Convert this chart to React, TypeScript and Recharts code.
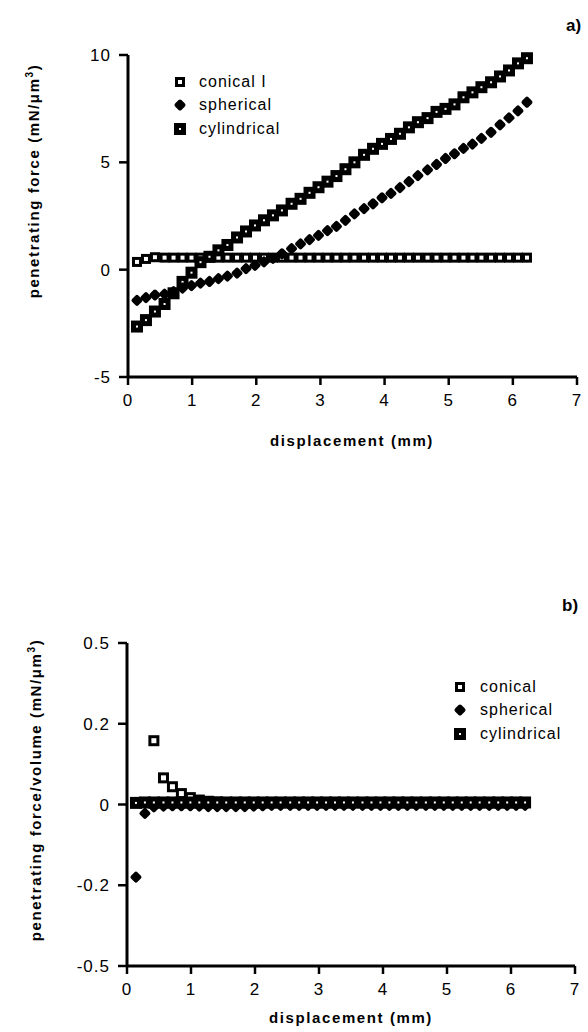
import { ScatterChart, Scatter, XAxis, YAxis } from "recharts";

// displacement grid (mm), shared by both panels
const DISPLACEMENT = [
  0.14, 0.28, 0.42, 0.57, 0.71, 0.85, 0.99, 1.13, 1.27, 1.41,
  1.55, 1.70, 1.84, 1.98, 2.12, 2.26, 2.40, 2.55, 2.69, 2.83,
  2.97, 3.11, 3.25, 3.39, 3.53, 3.68, 3.82, 3.96, 4.10, 4.24,
  4.38, 4.52, 4.67, 4.81, 4.95, 5.09, 5.23, 5.37, 5.51, 5.66,
  5.80, 5.94, 6.08, 6.22,
];

// panel a) penetrating force
const CONICAL_A = [
  0.36, 0.5, 0.58, 0.56, 0.56, 0.56, 0.56, 0.56, 0.56, 0.56,
  0.56, 0.56, 0.56, 0.56, 0.56, 0.56, 0.56, 0.56, 0.56, 0.56,
  0.56, 0.56, 0.56, 0.56, 0.56, 0.56, 0.56, 0.56, 0.56, 0.56,
  0.56, 0.56, 0.56, 0.56, 0.56, 0.56, 0.56, 0.56, 0.56, 0.56,
  0.56, 0.56, 0.56, 0.56,
];
const SPHERICAL_A = [
  -1.43, -1.3, -1.18, -1.14, -1.02, -0.86, -0.74, -0.63, -0.55, -0.42,
  -0.3, -0.16, 0.05, 0.2, 0.36, 0.53, 0.74, 0.98, 1.2, 1.4,
  1.6, 1.82, 2.02, 2.3, 2.6, 2.84, 3.07, 3.35, 3.55, 3.82,
  4.1, 4.38, 4.65, 4.9, 5.18, 5.4, 5.65, 5.85, 6.12, 6.4,
  6.75, 7.07, 7.4, 7.8,
];
const CYLINDRICAL_A = [
  -2.65, -2.35, -1.95, -1.6, -1.1, -0.57, -0.14, 0.35, 0.6, 0.9,
  1.15, 1.5, 1.78, 2.06, 2.3, 2.53, 2.76, 3.07, 3.3, 3.58,
  3.84, 4.1, 4.36, 4.68, 5.0, 5.35, 5.63, 5.86, 6.09, 6.33,
  6.63, 6.87, 7.06, 7.35, 7.49, 7.7, 8.03, 8.26, 8.5, 8.73,
  9.0, 9.28, 9.61, 9.85,
];

// panel b) penetrating force / volume
const CONICAL_B = [
  null, null, 0.158, 0.066, 0.044, 0.027, 0.017, 0.011, 0.008, 0.006,
  0.005, 0.005, 0.005, 0.005, 0.005, 0.005, 0.005, 0.005, 0.005, 0.005,
  0.005, 0.005, 0.005, 0.005, 0.005, 0.005, 0.005, 0.005, 0.005, 0.005,
  0.005, 0.005, 0.005, 0.005, 0.005, 0.005, 0.005, 0.005, 0.005, 0.005,
  0.005, 0.005, 0.005, 0.005,
];
const SPHERICAL_B = [
  -0.18, -0.022, -0.006, -0.004, -0.003, -0.003, -0.003, -0.004, -0.005, -0.005,
  -0.005, -0.005, -0.005, -0.004, -0.003, -0.002, -0.002, -0.002, -0.002, -0.002,
  -0.002, -0.002, -0.002, -0.002, -0.002, -0.002, -0.002, -0.002, -0.002, -0.002,
  -0.002, -0.002, -0.002, -0.002, -0.002, -0.002, -0.002, -0.002, -0.002, -0.002,
  -0.002, -0.002, -0.002, -0.002,
];
const CYLINDRICAL_B = [
  0.004, 0.005, 0.005, 0.005, 0.005, 0.005, 0.005, 0.005, 0.005, 0.005,
  0.005, 0.005, 0.005, 0.005, 0.005, 0.005, 0.005, 0.005, 0.005, 0.005,
  0.005, 0.005, 0.005, 0.005, 0.005, 0.005, 0.005, 0.005, 0.005, 0.005,
  0.005, 0.005, 0.005, 0.005, 0.005, 0.005, 0.005, 0.005, 0.005, 0.005,
  0.005, 0.005, 0.005, 0.005,
];

const X_TICKS = [0, 1, 2, 3, 4, 5, 6, 7];
const Y_TICKS_A = [-5, 0, 5, 10];
// panel b's axis is evenly spaced even though its labels are not
const Y_TICKS_B = [-0.4, -0.2, 0, 0.2, 0.4];
const Y_TICK_LABELS_B = ["-0.5", "-0.2", "0", "0.2", "0.5"];

const FONT = '"Liberation Sans", Arial, Helvetica, sans-serif';

function toPoints(ys: (number | null)[]) {
  return DISPLACEMENT.map((x, i) => ({ x, y: ys[i] })).filter((p) => p.y !== null);
}

// ─── Markers ─────────────────────────────────────────────────────────────────

function ConicalMark({ cx, cy, size = 10, hole = 4 }: { cx: number; cy: number; size?: number; hole?: number }) {
  const h = size / 2;
  return (
    <g>
      <rect x={cx - h} y={cy - h} width={size} height={size} fill="#000" />
      <rect x={cx - hole / 2} y={cy - hole / 2} width={hole} height={hole} fill="#fff" />
    </g>
  );
}

function SphericalMark({ cx, cy }: { cx: number; cy: number }) {
  return (
    <path
      d={`M${cx},${cy - 3.5} L${cx + 3.5},${cy} L${cx},${cy + 3.5} L${cx - 3.5},${cy} Z`}
      fill="#000"
      stroke="#000"
      strokeWidth={4}
      strokeLinejoin="round"
    />
  );
}

function CylindricalMark({ cx, cy }: { cx: number; cy: number }) {
  return (
    <g>
      <rect x={cx - 6} y={cy - 6} width={12} height={12} fill="#000" />
      <rect x={cx - 1} y={cy - 1} width={2} height={2} fill="#fff" />
    </g>
  );
}

function LegendIcon({ kind }: { kind: string }) {
  return (
    <svg width={14} height={14} style={{ display: "block" }}>
      {kind === "conical" && <ConicalMark cx={7} cy={7} size={10} hole={4} />}
      {kind === "spherical" && <SphericalMark cx={7} cy={7} />}
      {kind === "cylindrical" && <CylindricalMark cx={7} cy={7} />}
    </svg>
  );
}

interface LegendRow {
  kind: string;
  label: string;
}

function Legend({ rows, left, top, textLeft }: { rows: LegendRow[]; left: number; top: number; textLeft: number }) {
  return (
    <div style={{ position: "absolute", left, top, fontFamily: FONT, fontSize: 16, letterSpacing: 1 }}>
      {rows.map((r) => (
        <div key={r.kind} style={{ display: "flex", alignItems: "center", height: 23.5 }}>
          <LegendIcon kind={r.kind} />
          <span style={{ marginLeft: textLeft }}>{r.label}</span>
        </div>
      ))}
    </div>
  );
}

function AxisTitle({ cx, cy, rotate, children }: { cx: number; cy: number; rotate?: boolean; children: React.ReactNode }) {
  return (
    <div
      style={{
        position: "absolute",
        left: cx,
        top: cy,
        transform: `translate(-50%, -50%)${rotate ? " rotate(-90deg)" : ""}`,
        whiteSpace: "nowrap",
        fontFamily: FONT,
        fontWeight: "bold",
        fontSize: 15,
        letterSpacing: 1.6,
      }}
    >
      {children}
    </div>
  );
}

const axisLine = { stroke: "#000", strokeWidth: 3 };
const tickLine = { stroke: "#000", strokeWidth: 2.5 };
const tickStyle = { fill: "#000", fontSize: 17, fontFamily: FONT, letterSpacing: 1 };

// ─── Panel a ─────────────────────────────────────────────────────────────────

function PanelA() {
  return (
    <ScatterChart width={588} height={470} margin={{ top: 55, right: 11, bottom: 63, left: 68 }}>
      <XAxis
        type="number"
        dataKey="x"
        domain={[0, 7]}
        ticks={X_TICKS}
        height={30}
        axisLine={axisLine}
        tickLine={tickLine}
        tickSize={8}
        tickMargin={9}
        tick={tickStyle}
      />
      <YAxis
        type="number"
        dataKey="y"
        domain={[-5, 10]}
        ticks={Y_TICKS_A}
        width={60}
        axisLine={axisLine}
        tickLine={tickLine}
        tickSize={9}
        tickMargin={8}
        tick={tickStyle}
      />
      <Scatter
        data={toPoints(CONICAL_A)}
        isAnimationActive={false}
        shape={(p: any) => <ConicalMark cx={p.cx} cy={p.cy} />}
      />
      <Scatter
        data={toPoints(CYLINDRICAL_A)}
        isAnimationActive={false}
        shape={(p: any) => <CylindricalMark cx={p.cx} cy={p.cy} />}
      />
      <Scatter
        data={toPoints(SPHERICAL_A)}
        isAnimationActive={false}
        shape={(p: any) => <SphericalMark cx={p.cx} cy={p.cy} />}
      />
    </ScatterChart>
  );
}

// ─── Panel b ─────────────────────────────────────────────────────────────────

function PanelB() {
  return (
    <ScatterChart width={588} height={512} margin={{ top: 123, right: 13, bottom: 36, left: 67 }}>
      <XAxis
        type="number"
        dataKey="x"
        domain={[0, 7]}
        ticks={X_TICKS}
        height={30}
        axisLine={axisLine}
        tickLine={tickLine}
        tickSize={8}
        tickMargin={9}
        tick={tickStyle}
      />
      <YAxis
        type="number"
        dataKey="y"
        domain={[-0.4, 0.4]}
        ticks={Y_TICKS_B}
        tickFormatter={(v: number) => Y_TICK_LABELS_B[Y_TICKS_B.indexOf(v)] ?? String(v)}
        width={60}
        axisLine={axisLine}
        tickLine={tickLine}
        tickSize={9}
        tickMargin={8}
        tick={tickStyle}
      />
      <Scatter
        data={toPoints(CONICAL_B)}
        isAnimationActive={false}
        shape={(p: any) => <ConicalMark cx={p.cx} cy={p.cy} size={11} hole={5} />}
      />
      <Scatter
        data={toPoints(SPHERICAL_B)}
        isAnimationActive={false}
        shape={(p: any) => <SphericalMark cx={p.cx} cy={p.cy} />}
      />
      <Scatter
        data={toPoints(CYLINDRICAL_B)}
        isAnimationActive={false}
        shape={(p: any) => <CylindricalMark cx={p.cx} cy={p.cy} />}
      />
    </ScatterChart>
  );
}

export default function App() {
  return (
    <div style={{ position: "absolute", left: 0, top: 0, width: 588, height: 1032, background: "#fff", overflow: "hidden" }}>
      <div style={{ position: "absolute", left: 0, top: 0 }}>
        <PanelA />
      </div>
      <div style={{ position: "absolute", left: 0, top: 520 }}>
        <PanelB />
      </div>

      <Legend
        left={173}
        top={70}
        textLeft={12}
        rows={[
          { kind: "conical", label: "conical I" },
          { kind: "spherical", label: "spherical" },
          { kind: "cylindrical", label: "cylindrical" },
        ]}
      />
      <Legend
        left={453}
        top={675}
        textLeft={13}
        rows={[
          { kind: "conical", label: "conical" },
          { kind: "spherical", label: "spherical" },
          { kind: "cylindrical", label: "cylindrical" },
        ]}
      />

      <AxisTitle cx={352} cy={440}>displacement (mm)</AxisTitle>
      <AxisTitle cx={351} cy={1017}>displacement (mm)</AxisTitle>
      <AxisTitle cx={33} cy={181} rotate>
        penetrating force (mN/μm<sup style={{ fontSize: 10 }}>3</sup>)
      </AxisTitle>
      <AxisTitle cx={35} cy={790} rotate>
        penetrating force/volume (mN/μm<sup style={{ fontSize: 10 }}>3</sup>)
      </AxisTitle>

      <div style={{ position: "absolute", left: 566, top: 16, fontFamily: FONT, fontWeight: "bold", fontSize: 17 }}>a)</div>
      <div style={{ position: "absolute", left: 562, top: 596, fontFamily: FONT, fontWeight: "bold", fontSize: 17 }}>b)</div>
    </div>
  );
}
